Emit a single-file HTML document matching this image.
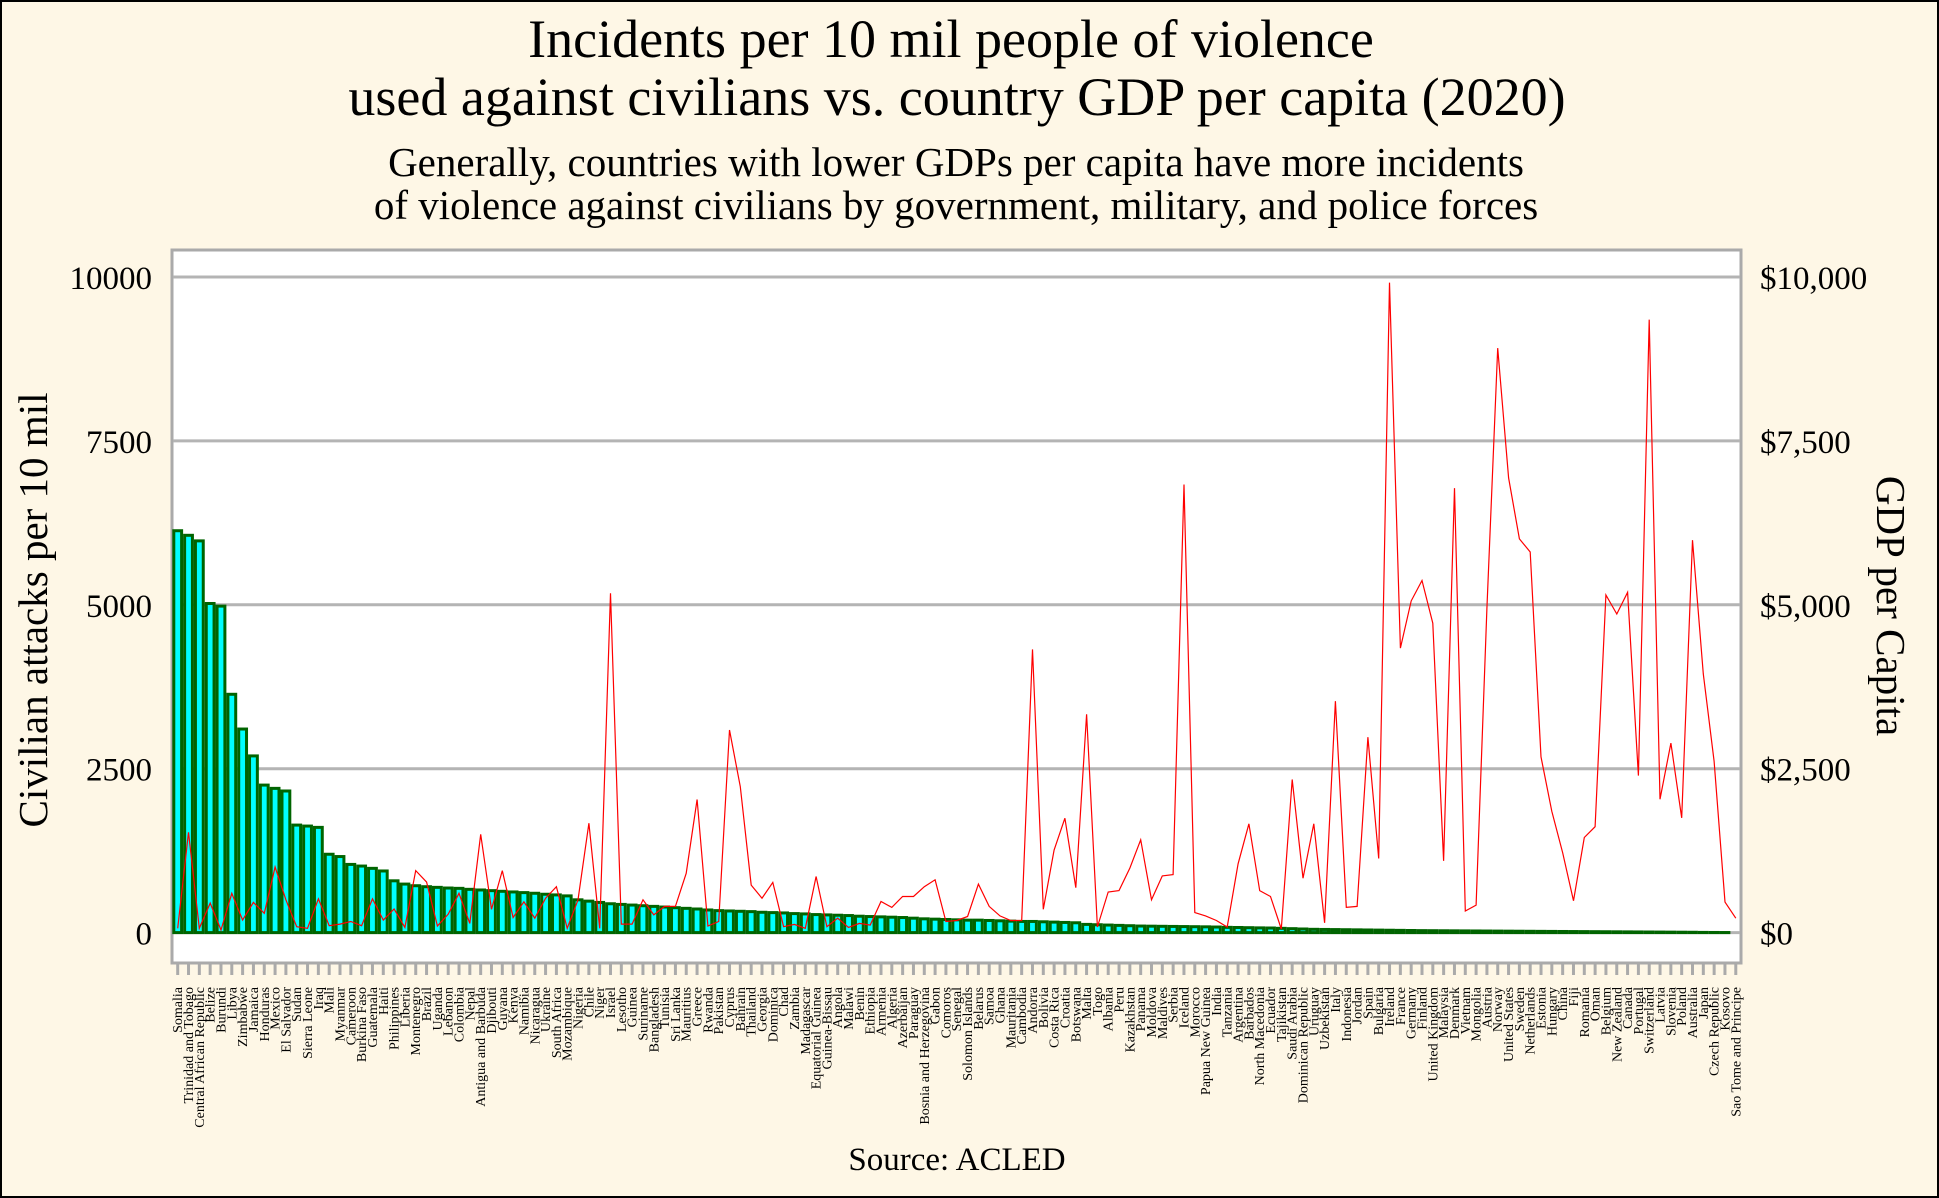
<!DOCTYPE html>
<html><head><meta charset="utf-8">
<style>
html,body{margin:0;padding:0;background:#fef7e6;}
#wrap{width:1939px;height:1198px;position:relative;box-sizing:border-box;border:2px solid #000;background:#fef7e6;overflow:hidden;}
svg text{font-family:"Liberation Serif",serif;fill:#000;}
</style></head>
<body>
<div id="wrap">
<svg id="chart" width="1939" height="1198" style="position:absolute;left:-2px;top:-2px">
<text x="951" y="57" font-size="54" text-anchor="middle">Incidents per 10 mil people of violence</text>
<text x="957" y="115" font-size="54" text-anchor="middle">used against civilians vs. country GDP per capita (2020)</text>
<text x="956" y="176" font-size="41" text-anchor="middle">Generally, countries with lower GDPs per capita have more incidents</text>
<text x="956" y="219" font-size="41" text-anchor="middle">of violence against civilians by government, military, and police forces</text>
<rect x="172" y="250" width="1569" height="713" fill="#fff" stroke="#aaa" stroke-width="3"/>
<g id="grid"></g>
<g id="bars"></g>
<path id="gdpline" fill="none" stroke="#ff0000" stroke-width="1.2"/>
<g id="xlabels"></g>
<g id="ylabels"></g>
<text transform="translate(47,610) rotate(-90)" font-size="41" text-anchor="middle">Civilian attacks per 10 mil</text>
<text transform="translate(1877,606) rotate(90)" font-size="41" text-anchor="middle">GDP per Capita</text>
<text x="957" y="1170" font-size="33" text-anchor="middle">Source: ACLED</text>
</svg>
</div>
<script>
const countries=["Somalia","Trinidad and Tobago","Central African Republic","Belize","Burundi","Libya","Zimbabwe","Jamaica","Honduras","Mexico","El Salvador","Sudan","Sierra Leone","Iraq","Mali","Myanmar","Cameroon","Burkina Faso","Guatemala","Haiti","Philippines","Liberia","Montenegro","Brazil","Uganda","Lebanon","Colombia","Nepal","Antigua and Barbuda","Djibouti","Guyana","Kenya","Namibia","Nicaragua","Ukraine","South Africa","Mozambique","Nigeria","Chile","Niger","Israel","Lesotho","Guinea","Suriname","Bangladesh","Tunisia","Sri Lanka","Mauritius","Greece","Rwanda","Pakistan","Cyprus","Bahrain","Thailand","Georgia","Dominica","Chad","Zambia","Madagascar","Equatorial Guinea","Guinea-Bissau","Angola","Malawi","Benin","Ethiopia","Armenia","Algeria","Azerbaijan","Paraguay","Bosnia and Herzegovina","Gabon","Comoros","Senegal","Solomon Islands","Belarus","Samoa","Ghana","Mauritania","Cambodia","Andorra","Bolivia","Costa Rica","Croatia","Botswana","Malta","Togo","Albania","Peru","Kazakhstan","Panama","Moldova","Maldives","Serbia","Iceland","Morocco","Papua New Guinea","India","Tanzania","Argentina","Barbados","North Macedonia","Ecuador","Tajikistan","Saudi Arabia","Dominican Republic","Uruguay","Uzbekistan","Italy","Indonesia","Jordan","Spain","Bulgaria","Ireland","France","Germany","Finland","United Kingdom","Malaysia","Denmark","Vietnam","Mongolia","Austria","Norway","United States","Sweden","Netherlands","Estonia","Hungary","China","Fiji","Romania","Oman","Belgium","New Zealand","Canada","Portugal","Switzerland","Latvia","Slovenia","Poland","Australia","Japan","Czech Republic","Kosovo","Sao Tome and Principe"];
const attacks=[6130,6060,5975,5020,4980,3635,3105,2695,2250,2200,2160,1640,1625,1605,1195,1160,1040,1015,980,940,790,740,715,700,690,680,675,660,650,640,630,620,610,600,585,575,560,500,480,460,440,430,420,410,400,390,380,370,360,345,335,330,325,320,310,305,300,290,285,275,270,265,260,250,245,240,235,230,220,210,205,200,195,190,190,185,180,175,170,170,165,160,155,150,125,120,115,110,105,100,98,96,94,92,90,88,85,80,78,75,72,70,65,60,55,50,48,46,44,42,40,38,36,34,32,30,29,28,27,26,25,24,23,22,21,20,19,18,17,16,15,14,13,12,11,10,9,8,7,6,5,3,2,1,0];
const gdp=[65,1530,65,450,40,600,190,460,295,1000,500,90,65,515,105,130,170,105,515,190,360,80,945,770,100,280,600,140,1500,355,945,230,470,220,525,700,65,500,1668,65,5175,130,130,500,270,400,400,905,2030,100,170,3090,2225,725,525,765,90,125,65,855,90,220,80,140,115,475,385,550,550,700,805,170,185,245,740,400,255,185,185,4320,355,1260,1745,685,3330,85,620,640,985,1415,500,865,885,6835,305,255,185,85,1050,1660,640,550,55,2335,830,1660,150,3530,385,400,2980,1130,9915,4340,5060,5370,4720,1095,6780,330,420,4940,8915,6935,6005,5805,2680,1850,1215,485,1450,1615,5150,4860,5190,2395,9350,2035,2890,1750,5985,3945,2615,465,220];
const yTicks=[0,2500,5000,7500,10000];
const yTickLabels=["0","2500","5000","7500","10000"];
const y2TickLabels=["$0","$2,500","$5,000","$7,500","$10,000"];

const NS="http://www.w3.org/2000/svg";
const X0=177.7,STEP=10.82,Y0=932.6,PX=0.06556;
function xs(i){return X0+i*STEP;}
function ys(v){return Y0-v*PX;}
function mk(tag,attrs,parent){const e=document.createElementNS(NS,tag);for(const k in attrs)e.setAttribute(k,attrs[k]);parent.appendChild(e);return e;}

const grid=document.getElementById('grid'),yl=document.getElementById('ylabels');
yTicks.forEach((t,k)=>{
  const g=mk('line',{x1:173,x2:1740,y1:ys(t),y2:ys(t),stroke:'#b4b4b4','stroke-width':3},grid);
  
  
  const a=mk('text',{x:152,y:ys(t)+12,'font-size':33,'text-anchor':'end'},yl);a.textContent=yTickLabels[k];
  
  
  const b=mk('text',{x:1760,y:ys(t)+12,'font-size':33},yl);b.textContent=y2TickLabels[k];
  
  
});
const bars=document.getElementById('bars'),xl=document.getElementById('xlabels');
countries.forEach((c,i)=>{
  const v=attacks[i];
  if(v>0){
    const r=mk('rect',{x:xs(i)-STEP/2+1.5,y:ys(v),width:STEP-3,height:Y0-ys(v),fill:'#00ffff',stroke:'#006400','stroke-width':3},bars);
    
    
  }
  const tk=mk('line',{x1:xs(i),x2:xs(i),y1:964,y2:975,stroke:'#aaa','stroke-width':3},xl);
  
  
  const t=mk('text',{transform:`translate(${xs(i)+4.5},987) rotate(-90)`,'font-size':14,'text-anchor':'end'},xl);
  t.textContent=c;
  
  
});
document.getElementById('gdpline').setAttribute('d',gdp.map((v,i)=>(i?'L':'M')+xs(i).toFixed(1)+','+ys(v).toFixed(1)).join(''));
</script>
</body></html>
